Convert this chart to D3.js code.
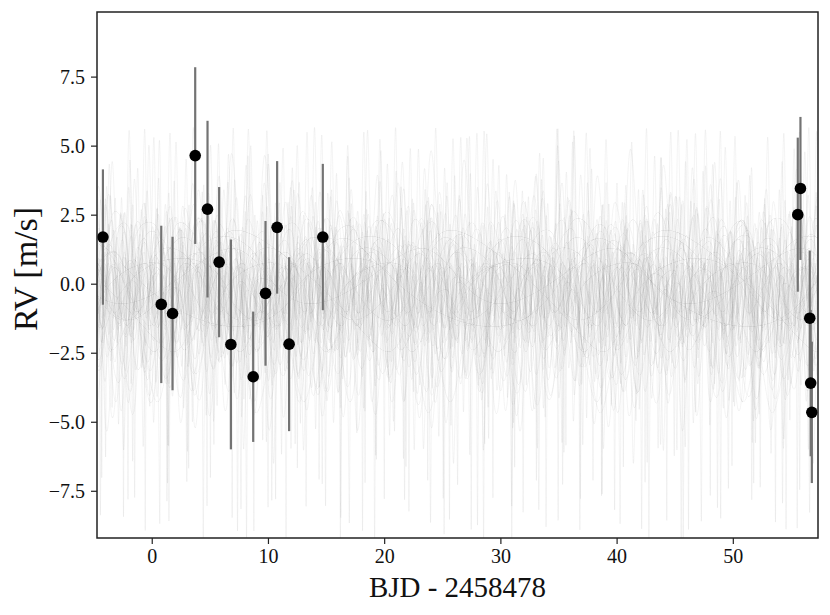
<!DOCTYPE html>
<html>
<head>
<meta charset="utf-8">
<script src="https://cdn.jsdelivr.net/npm/d3@7"></script>
<style>
  html, body { margin: 0; padding: 0; background: #fff; }
  svg { display: block; }
</style>
</head>
<body>
<svg id="chart" width="830" height="615"></svg>
<script>
// ---- Observed data ----
const obsTime = [-4.2, 0.82, 1.79, 3.74, 4.80, 5.80, 6.81, 8.73, 9.79, 10.79, 11.82, 14.72, 55.59, 55.82, 56.62, 56.70, 56.80];
const obsRV   = [1.69, -0.75, -1.08, 4.64, 2.70, 0.78, -2.20, -3.37, -0.35, 2.04, -2.19, 1.69, 2.50, 3.45, -1.25, -3.60, -4.66];
const obsErr  = [2.45, 2.85, 2.78, 3.20, 3.20, 2.72, 3.80, 2.36, 2.62, 2.40, 3.15, 2.65, 2.79, 2.59, 2.45, 2.65, 2.56];

// ---- Tick labels ----
const xTicks = [0, 10, 20, 30, 40, 50];
const yTicks = [-7.5, -5.0, -2.5, 0.0, 2.5, 5.0, 7.5];

// ---- Posterior model samples: inner planet (Keplerian parameters) ----
const samplePeriod = [1.87, 2.95, 2.33, 3.40, 2.12, 1.62, 2.58,
                      1.49, 1.92, 1.27, 2.40, 1.71, 2.27, 1.39, 2.86,
                      1.05, 1.33, 1.76, 2.21, 1.18, 2.64, 3.05, 1.11, 1.58, 2.05,
                      6.2, 8.5, 11.3, 14.8, 9.7, 18.5, 7.4, 12.6, 22.0, 10.2, 16.3, 5.5,
                      0.95, 1.22, 3.6, 2.9, 1.68, 4.2, 1.36, 2.48, 3.3, 1.02];
const sampleK      = [4.5, 5.0, 4.2, 4.8, 3.2, 3.0, 3.5,
                      3.6, 3.0, 4.1, 2.7, 3.3, 2.6, 3.9, 3.1,
                      2.0, 2.4, 1.8, 2.5, 1.6, 2.2, 2.6, 1.7, 2.3, 1.9,
                      2.0, 2.6, 1.5, 2.8, 1.2, 2.2, 1.8, 3.0, 1.6, 2.4, 1.0, 1.4,
                      1.0, 1.4, 0.8, 1.2, 1.6, 0.9, 1.3, 1.1, 1.5, 0.7];
const sampleEcc    = [0.78, 0.80, 0.75, 0.82, 0.60, 0.65, 0.55,
                      0.35, 0.30, 0.30, 0.25, 0.40, 0.28, 0.33, 0.22,
                      0.25, 0.30, 0.20, 0.25, 0.15, 0.30, 0.20, 0.25, 0.30, 0.20,
                      0.30, 0.45, 0.10, 0.50, 0.20, 0.35, 0.05, 0.40, 0.25, 0.55, 0.15, 0.30,
                      0.10, 0.20, 0.05, 0.15, 0.10, 0.20, 0.05, 0.10, 0.15, 0.20];
const sampleOmega  = [180, 170, 195, 185, 175, 190, 160,
                      0, 340, 20, 10, 350, 30, 15, 330,
                      30, 120, 200, 300, 60, 250, 10, 160, 330, 90,
                      90, 200, 300, 170, 40, 250, 130, 190, 330, 160, 60, 280,
                      60, 150, 240, 300, 20, 110, 200, 280, 330, 90];
const samplePhase  = [0.70, 0.50, 0.30, 0.40, 0.65, 0.90, 0.05,
                      0.40, 0.20, 0.55, 0.05, 0.85, 0.60, 0.15, 0.35,
                      0.50, 0.25, 0.75, 0.10, 0.60, 0.90, 0.80, 0.30, 0.70, 0.95,
                      0.30, 0.80, 0.10, 0.60, 0.45, 0.20, 0.90, 0.05, 0.70, 0.35, 0.55, 0.15,
                      0.20, 0.50, 0.80, 0.35, 0.65, 0.10, 0.90, 0.45, 0.75, 0.25];
const sampleOffset = [0.2, 0.3, 0.0, 0.4, -0.1, 0.0, -0.2,
                      -0.8, -0.6, -1.0, -0.5, -0.7, -0.4, -0.9, -0.3,
                      -0.3, -0.5, -0.2, -0.4, -0.6, -0.1, -0.5, -0.3, -0.4, -0.2,
                      -0.4, -0.2, 0.1, -0.5, -0.3, 0.0, -0.6, -0.1, -0.3, -0.4, 0.2, -0.2,
                      -0.3, -0.5, -0.2, -0.4, -0.6, -0.1, -0.3, -0.5, -0.2, -0.4];
// ---- Posterior model samples: outer circular signal ----
const slowPeriod = [9.3, 13.1, 7.8, 17.6, 11.2, 8.4, 15.5,
                    10.6, 12.9, 7.1, 19.4, 9.9, 14.2, 8.8, 16.7,
                    11.8, 6.9, 13.6, 10.1, 18.2, 7.5, 12.3, 9.1, 15.0, 20.5,
                    1, 1, 1, 1, 1, 1, 1, 1, 1, 1, 1, 1,
                    1, 1, 1, 1, 1, 1, 1, 1, 1, 1];
const slowK      = [1.2, 0.9, 1.5, 1.1, 0.8, 1.3, 1.0,
                    1.6, 1.2, 1.4, 0.9, 1.7, 1.1, 1.3, 1.5,
                    0.8, 1.0, 1.2, 0.9, 1.4, 1.1, 0.7, 1.3, 1.0, 1.2,
                    0, 0, 0, 0, 0, 0, 0, 0, 0, 0, 0, 0,
                    0, 0, 0, 0, 0, 0, 0, 0, 0, 0];
const slowPhase  = [0.15, 0.62, 0.38, 0.81, 0.27, 0.54, 0.93,
                    0.08, 0.46, 0.71, 0.33, 0.59, 0.12, 0.87, 0.24,
                    0.68, 0.41, 0.95, 0.19, 0.77, 0.03, 0.52, 0.36, 0.64, 0.89,
                    0, 0, 0, 0, 0, 0, 0, 0, 0, 0, 0, 0,
                    0, 0, 0, 0, 0, 0, 0, 0, 0, 0];

// ---- Layout ----
const svg = d3.select("#chart");
const W = 830, H = 615;
const margin = {left: 97, top: 12, right: W - 818, bottom: H - 538};
const iw = W - margin.left - margin.right, ih = H - margin.top - margin.bottom;
const serif = "'Liberation Serif', 'DejaVu Serif', serif";

const x = d3.scaleLinear().domain([-4.71, 57.33]).range([margin.left, margin.left + iw]);
const y = d3.scaleLinear().domain([-9.21, 9.84]).range([margin.top + ih, margin.top]);

svg.append("defs").append("clipPath").attr("id", "clip")
  .append("rect").attr("x", margin.left).attr("y", margin.top).attr("width", iw).attr("height", ih);

// Keplerian RV model
function keplerRV(t, P, K, e, wDeg, ph) {
  const w = wDeg * Math.PI / 180;
  let M = 2 * Math.PI * (t / P - ph);
  M = M - 2 * Math.PI * Math.floor(M / (2 * Math.PI));
  let E = e < 0.8 ? M : Math.PI;
  for (let i = 0; i < 15; i++) {
    E = E - (E - e * Math.sin(E) - M) / (1 - e * Math.cos(E));
  }
  const nu = 2 * Math.atan2(Math.sqrt(1 + e) * Math.sin(E / 2), Math.sqrt(1 - e) * Math.cos(E / 2));
  return K * (Math.cos(nu + w) + e * Math.cos(w));
}
function modelRV(t, i) {
  return keplerRV(t, samplePeriod[i], sampleK[i], sampleEcc[i], sampleOmega[i], samplePhase[i])
       + slowK[i] * Math.sin(2 * Math.PI * (t / slowPeriod[i] - slowPhase[i]))
       + sampleOffset[i];
}

const tGrid = d3.range(x.domain()[0], x.domain()[1] + 0.005, 0.006);
const line = d3.line().x(d => x(d[0])).y(d => y(d[1]));

const models = svg.append("g").attr("clip-path", "url(#clip)");
samplePeriod.forEach((P, i) => {
  const pts = tGrid.map(t => [t, modelRV(t, i)]);
  models.append("path")
    .attr("d", line(pts))
    .attr("fill", "none")
    .attr("stroke", "#808080")
    .attr("stroke-opacity", 0.09)
    .attr("stroke-width", 1);
});

// Error bars
const obs = obsTime.map((t, i) => ({t, v: obsRV[i], e: obsErr[i]}));
svg.append("g").attr("clip-path", "url(#clip)")
  .selectAll("line").data(obs).join("line")
  .attr("x1", d => x(d.t)).attr("x2", d => x(d.t))
  .attr("y1", d => y(d.v - d.e)).attr("y2", d => y(d.v + d.e))
  .attr("stroke", "#737373").attr("stroke-width", 2.2);

// Points
svg.append("g")
  .selectAll("circle").data(obs).join("circle")
  .attr("cx", d => x(d.t)).attr("cy", d => y(d.v)).attr("r", 5.8)
  .attr("fill", "#000");

// Axes
const xAxis = svg.append("g").attr("transform", `translate(0,${margin.top + ih})`)
  .call(d3.axisBottom(x).tickValues(xTicks).tickSize(6).tickPadding(5).tickFormat(d3.format("d")));
const yAxis = svg.append("g").attr("transform", `translate(${margin.left},0)`)
  .call(d3.axisLeft(y).tickValues(yTicks).tickSize(6).tickPadding(6).tickFormat(d3.format(".1f")));
[xAxis, yAxis].forEach(a => {
  a.select(".domain").remove();
  a.selectAll(".tick line").attr("stroke", "#222").attr("stroke-width", 1.2);
  a.selectAll(".tick text").attr("font-size", 20).attr("fill", "#111").attr("font-family", serif);
});

// Frame
svg.append("rect")
  .attr("x", margin.left).attr("y", margin.top).attr("width", iw).attr("height", ih)
  .attr("fill", "none").attr("stroke", "#222").attr("stroke-width", 1.5);

// Labels
svg.append("text")
  .attr("x", margin.left + iw / 2).attr("y", 597)
  .attr("text-anchor", "middle")
  .attr("font-family", serif).attr("font-size", 29).attr("fill", "#111")
  .text("BJD - 2458478");

svg.append("text")
  .attr("transform", `translate(37,269) rotate(-90)`)
  .attr("text-anchor", "middle")
  .attr("font-family", serif).attr("font-size", 34).attr("fill", "#111")
  .text("RV [m/s]");
</script>
</body>
</html>
